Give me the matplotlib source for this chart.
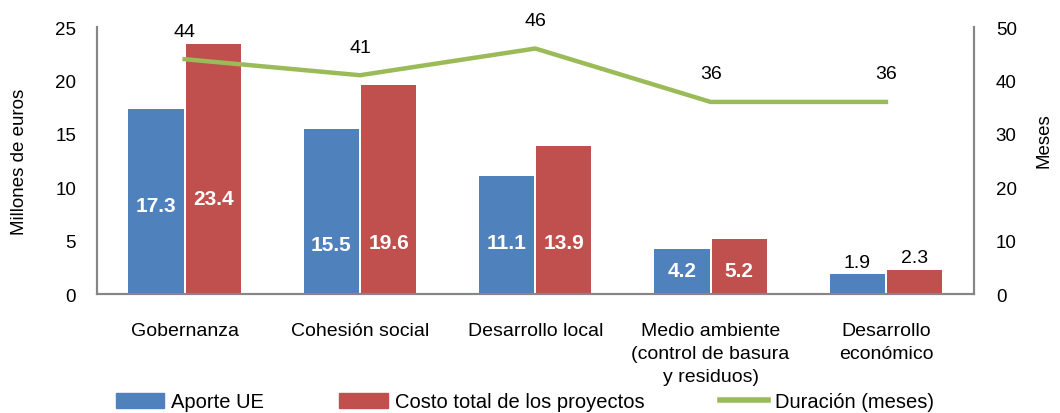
import numpy as np
import matplotlib
matplotlib.use('Agg')
from matplotlib import pyplot as plt
from matplotlib.lines import Line2D
from matplotlib.patches import Patch

categories = ['Gobernanza', 'Cohesión social', 'Desarrollo local',
              'Medio ambiente\n(control de basura\ny residuos)', 'Desarrollo\neconómico']
aporte_ue = [17.3, 15.5, 11.1, 4.2, 1.9]
costo_total = [23.4, 19.6, 13.9, 5.2, 2.3]
duracion = [44, 41, 46, 36, 36]

plt.rcParams['font.family'] = ['Liberation Sans', 'DejaVu Sans']
plt.rcParams['font.size'] = 13.5

blue = '#4F81BD'
red = '#C0504D'
green = '#9BBB59'
grey = '#868686'

fig = plt.figure(figsize=(10.6, 4.14), dpi=100)
ax = fig.add_axes([0.0915, 0.287, 0.827, 0.645])
ax2 = ax.twinx()

x = np.arange(len(categories))
w = 0.315
ax.bar(x - 0.163, aporte_ue, w, color=blue, zorder=2)
ax.bar(x + 0.163, costo_total, w, color=red, zorder=2)

# heights of the white value labels (axis units), as placed in the original
label_y_ue = [8.3, 4.65, 4.8, 2.2]
label_y_ct = [8.95, 4.8, 4.8, 2.2]
for i in range(len(categories)):
    if i < len(label_y_ue):
        ax.text(x[i] - 0.163, label_y_ue[i], f'{aporte_ue[i]:.1f}', color='white', fontweight='bold',
                ha='center', va='center', fontsize=15)
        ax.text(x[i] + 0.163, label_y_ct[i], f'{costo_total[i]:.1f}', color='white', fontweight='bold',
                ha='center', va='center', fontsize=15)
    else:
        ax.text(x[i] - 0.163, aporte_ue[i] + 0.3, f'{aporte_ue[i]:.1f}', ha='center', va='bottom', fontsize=14)
        ax.text(x[i] + 0.163, costo_total[i] + 0.3, f'{costo_total[i]:.1f}', ha='center', va='bottom', fontsize=14)

ax2.plot(x, duracion, color=green, lw=3.2, zorder=3)
for xi, d in zip(x, duracion):
    ax2.annotate(str(d), (xi, d), xytext=(0, 14), textcoords='offset points',
                 ha='center', va='bottom', fontsize=14)

ax.set_xlim(-0.5, len(categories) - 0.5)
ax.set_ylim(0, 25)
ax2.set_ylim(0, 50)
ax.set_yticks(range(0, 26, 5))
ax2.set_yticks(range(0, 51, 10))
ax.set_xticks(x)
ax.set_xticklabels(categories, fontsize=14, linespacing=1.45)

for a in (ax, ax2):
    a.spines['top'].set_visible(False)
    for s in ('left', 'right', 'bottom'):
        a.spines[s].set_color(grey)
        a.spines[s].set_linewidth(1.5)
    a.tick_params(length=0)
ax.tick_params(axis='y', pad=15)
ax2.tick_params(axis='y', pad=16)
ax.tick_params(axis='x', pad=20)
ax.set_zorder(ax2.get_zorder() - 1)
ax.patch.set_visible(False)
ax2.patch.set_visible(False)

ax.set_ylabel('Millones de euros', fontsize=13.5)
ax.yaxis.set_label_coords(-0.079, 0.5)
ax2.set_ylabel('Meses', fontsize=13.5)
ax2.yaxis.set_label_coords(1.071, 0.58)

handles = [Patch(color=blue), Patch(color=red), Line2D([0], [0], color=green, lw=4)]
fig.legend(handles, ['Aporte UE', 'Costo total de los proyectos', 'Duración (meses)'],
           loc='lower left', bbox_to_anchor=(0.092, -0.040), ncol=3, frameon=False,
           fontsize=14.5, handlelength=2.4, handleheight=0.75, columnspacing=3.75, handletextpad=0.35)

fig.savefig('out.png', dpi=100)
